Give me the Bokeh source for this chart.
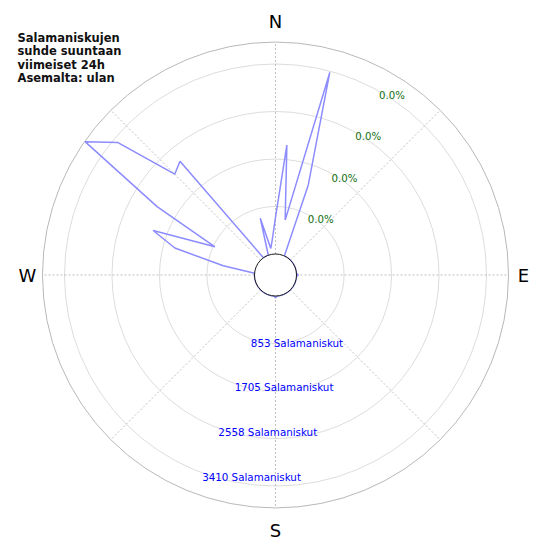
import numpy as np
from bokeh.plotting import figure
from bokeh.models import Range1d, Label
from bokeh.core.properties import value
from bokeh.embed import file_html
from bokeh.resources import INLINE

# ---- data ----
angles_deg = list(range(0, 360, 5))
counts = [
    659, 1964, 623, 3387, 1343, 0, 0, 0, 0, 0, 0, 0,        # 0 .. 55
    0, 0, 0, 0, 0, 0, 30, 0, 0, 0, 0, 0,                    # 60 .. 115
    0, 0, 0, 0, 0, 0, 0, 0, 0, 0, 0, 0,                     # 120 .. 175
    30, 0, 0, 0, 0, 0, 0, 0, 0, 0, 0, 0,                    # 180 .. 235
    0, 0, 0, 0, 0, 0, 0, 0, 574, 1493, 1960, 822,           # 240 .. 295
    2077, 3796, 3324, 2181, 2290, 0, 0, 0, 0, 678, 108, 271,  # 300 .. 355
]
tick_values = [853, 1705, 2558, 3410]
tick_labels = ["853 Salamaniskut", "1705 Salamaniskut", "2558 Salamaniskut", "3410 Salamaniskut"]
pct_labels = ["0.0%", "0.0%", "0.0%", "0.0%"]
dir_labels = ["N", "E", "S", "W"]
dir_angles = [0, 90, 180, 270]
title_lines = ["Salamaniskujen", "suhde suuntaan", "viimeiset 24h", "Asemalta: ulan"]
r_max = 3805
hole = 377          # inner empty radius, in count units

# ---- layout ----
W = H = 542
k = 47.5 / 852.5    # px per count
cx, cy = 275.0, 274.5  # center in canvas px (from left, from top)

p = figure(width=W, height=H, output_backend="svg", toolbar_location=None,
           x_range=Range1d(-cx / k, (W - cx) / k),
           y_range=Range1d(-(H - cy) / k, cy / k),
           min_border=0)
p.axis.visible = False
p.grid.visible = False
p.outline_line_color = None
p.background_fill_color = "white"


def polar(theta_deg, r):
    t = np.radians(np.asarray(theta_deg, dtype=float))
    r = np.asarray(r, dtype=float)
    return r * np.sin(t), r * np.cos(t)


# grid circles
tick_r = [hole + v for v in tick_values]
p.circle(x=[0] * len(tick_r), y=[0] * len(tick_r), radius=tick_r,
         fill_color=None, line_color="#d3d3d3", line_width=0.8)
p.circle(x=[0], y=[0], radius=[hole + r_max], fill_color=None,
         line_color="#b8b8b8", line_width=1)

# radial dotted lines
for a in range(0, 360, 45):
    xs, ys = polar([a, a], [hole, hole + r_max])
    p.line(xs, ys, line_color="#b0b0b0", line_width=0.8, line_dash="2 2")

# data line (closed)
ang = angles_deg + [angles_deg[0]]
val = counts + [counts[0]]
xs, ys = polar(ang, [hole + v for v in val])
p.line(xs, ys, line_color="#8c8cff", line_width=1.5)

# hole
p.circle(x=[0], y=[0], radius=[hole], fill_color="white",
         line_color="black", line_width=0.9)

# percent labels (green)
px, py = polar([30] * 4, [r - 4 / k for r in tick_r])
p.text(x=px, y=py, text=pct_labels, text_color="#137013",
       text_font=value("DejaVu Sans"), text_font_size="10.2px",
       text_align="left", text_baseline="middle")

# count labels (blue)
bx, by = polar([200] * 4, [r + 3.5 / k for r in tick_r])
p.text(x=bx, y=by, text=tick_labels, text_color="blue",
       text_font=value("DejaVu Sans"), text_font_size="10.3px",
       text_align="left", text_baseline="middle")

# direction labels
dist = [254 / k, 248 / k, 255 / k, 248 / k]
dx, dy = polar(dir_angles, dist)
p.text(x=dx, y=dy, text=dir_labels, text_color="black",
       text_font=value("DejaVu Sans"), text_font_size="18px",
       text_align="center", text_baseline="middle")

# title
for i, line in enumerate(title_lines):
    p.add_layout(Label(x=17, y=H - 37.7 - 13.2 * i, x_units="screen", y_units="screen",
                       text=line, text_font="DejaVu Sans", text_font_style="bold",
                       text_font_size="11.5px", text_color="#111111",
                       text_baseline="alphabetic", text_align="left"))

open("out.html", "w").write(file_html(p, INLINE))
